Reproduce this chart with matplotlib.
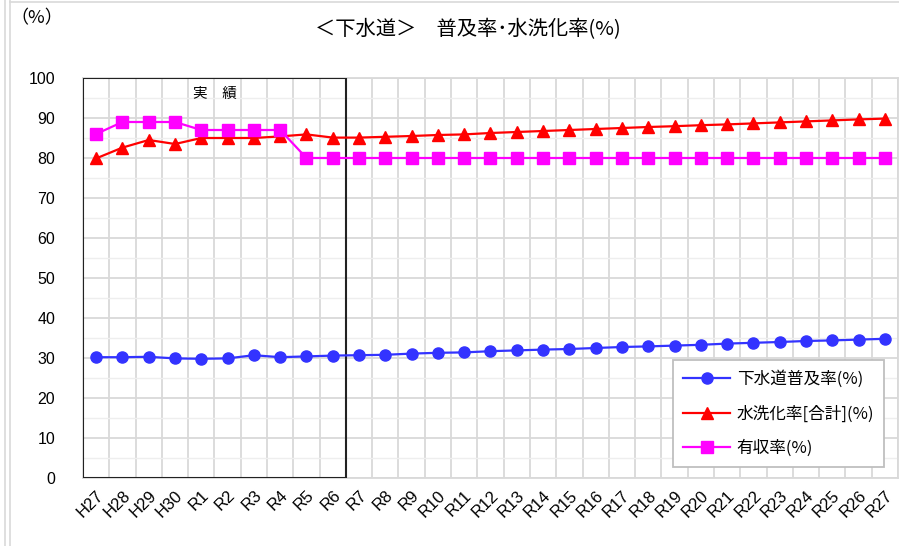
import matplotlib.pyplot as plt
from matplotlib.patches import Rectangle
from matplotlib.lines import Line2D

plt.rcParams['font.family'] = ['Noto Sans CJK JP', 'DejaVu Sans']

# categorias (H27-H30, R1-R27)
years = ['H27', 'H28', 'H29', 'H30'] + ['R%d' % n for n in range(1, 28)]

fukyu = [30.2, 30.2, 30.3, 29.9, 29.8, 29.9, 30.7, 30.2, 30.4, 30.6,
         30.7, 30.8, 31.1, 31.3, 31.4, 31.7, 31.9, 32.1, 32.25, 32.5,
         32.75, 32.9, 33.1, 33.3, 33.6, 33.8, 34.0, 34.25, 34.4, 34.6, 34.8]
suisen = [79.9, 82.6, 84.5, 83.5, 85.0, 85.0, 85.0, 85.4, 85.9, 85.1,
          85.1, 85.3, 85.5, 85.75, 85.9, 86.25, 86.5, 86.75, 87.0, 87.25,
          87.5, 87.75, 87.95, 88.2, 88.4, 88.65, 88.9, 89.15, 89.4, 89.65, 89.85]
yushu = [86, 89, 89, 89, 87, 87, 87, 87, 80, 80,
         80, 80, 80, 80, 80, 80, 80, 80, 80, 80,
         80, 80, 80, 80, 80, 80, 80, 80, 80, 80, 80]

labels = ['下水道普及率(%)', '水洗化率[合計](%)', '有収率(%)']
n_jisseki = 10  # H27..R6

fig = plt.figure(figsize=(8.99, 5.46), dpi=100)
ax = fig.add_axes([83 / 899, 68 / 546, 815 / 899, 400 / 546])

x = list(range(len(years)))
ax.plot(x, fukyu, color='#3333ff', marker='o', markersize=8, lw=1.6, label=labels[0], zorder=5)
ax.plot(x, suisen, color='#ff0000', marker='^', markersize=8.5, lw=1.6, label=labels[1], zorder=5)
ax.plot(x, yushu, color='#ff00ff', marker='s', markersize=8, lw=1.6, label=labels[2], zorder=5)

ax.set_xlim(-0.5, len(years) - 0.5)
ax.set_ylim(0, 100)
ax.set_yticks(range(0, 101, 10))
ax.set_yticks(range(5, 100, 10), minor=True)
ax.set_xticks(x)
ax.set_xticklabels(years, rotation=45, ha='right', rotation_mode='anchor',
                   fontsize=12, family='Liberation Sans')
ax.set_xticks([i - 0.5 for i in range(len(years) + 1)], minor=True)
for t in ax.get_yticklabels():
    t.set_family('Liberation Sans')
ax.tick_params(axis='y', labelsize=11.5, length=0, pad=20)
ax.tick_params(axis='x', length=0, pad=7)
ax.tick_params(which='minor', length=0)

ax.grid(which='major', axis='y', color='#d9d9d9', lw=1.3)
ax.grid(which='minor', axis='y', color='#eeeeee', lw=1.0)
ax.grid(which='minor', axis='x', color='#d9d9d9', lw=1.3)
ax.set_axisbelow(True)
for s in ax.spines.values():
    s.set_color('#d9d9d9')
    s.set_linewidth(1.3)

# recuadro de "実績"
ax.add_patch(Rectangle((-0.5, 0), n_jisseki, 100, fill=False, edgecolor='#222222', lw=1.5, zorder=4))
ax.text((n_jisseki - 1) / 2, 96, '実　績', ha='center', va='center', fontsize=10.5)

leg = ax.legend(loc='lower right', bbox_to_anchor=(0.983, 0.027), borderaxespad=0,
                fontsize=12, handlelength=2.8, handletextpad=0.4, labelspacing=1.05,
                borderpad=0.6, fancybox=False, framealpha=1, edgecolor='#bfbfbf')
leg.get_frame().set_linewidth(1.3)
leg.set_zorder(10)

fig.text(468 / 899, 1 - 30 / 546, '＜下水道＞　普及率･水洗化率(%)', ha='center', va='center', fontsize=14.6)
fig.text(10 / 899, 1 - 18 / 546, '（%）', ha='left', va='center', fontsize=13)

# bordes exteriores
for xx in (5 / 899, 10 / 899):
    fig.add_artist(Line2D([xx, xx], [0, 1], color='#d9d9d9', lw=1.2))
fig.add_artist(Line2D([10 / 899, 1], [1 - 1.5 / 546, 1 - 1.5 / 546], color='#d9d9d9', lw=1.2))

fig.savefig('out.png', dpi=100)
